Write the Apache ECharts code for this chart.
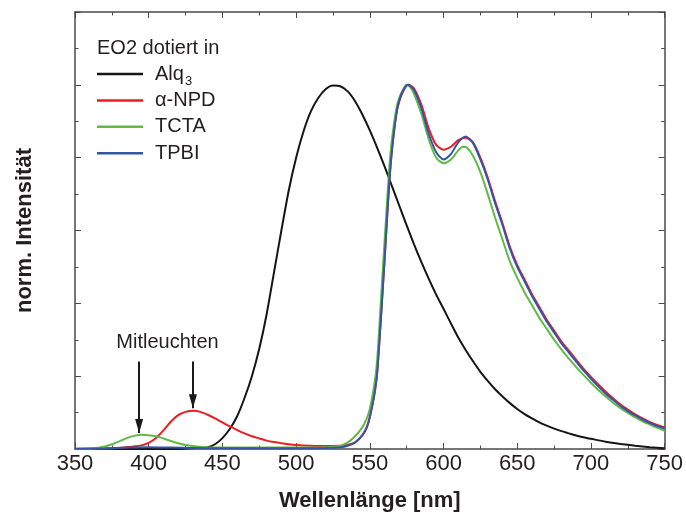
<!DOCTYPE html>
<html><head><meta charset="utf-8">
<script src="https://cdn.jsdelivr.net/npm/echarts@6/dist/echarts.min.js"></script>
<style>html,body{margin:0;padding:0;background:#fff}#c{width:686px;height:517px}</style>
</head><body><div id="c"></div>
<script>
// ---- data (wavelength nm, normalized intensity) ----
const seriesNames = ['Alq3', 'α-NPD', 'TCTA', 'TPBI'];
const xTicks = [350, 400, 450, 500, 550, 600, 650, 700, 750];

const alq3 = [[350,0],[420,0],[430,0.002],[440,0.005],[445,0.013],[450,0.03],[455,0.055],[460,0.09],[465,0.14],[470,0.20],[475,0.275],[480,0.37],[485,0.485],[490,0.60],[495,0.71],[500,0.80],[505,0.872],[510,0.927],[515,0.964],[520,0.988],[525,0.998],[530,0.996],[535,0.982],[540,0.955],[545,0.918],[550,0.875],[555,0.827],[560,0.776],[565,0.722],[570,0.668],[575,0.614],[580,0.562],[585,0.513],[590,0.467],[595,0.424],[600,0.385],[605,0.345],[610,0.306],[615,0.272],[620,0.241],[625,0.212],[630,0.187],[635,0.164],[640,0.144],[645,0.126],[650,0.11],[655,0.096],[660,0.084],[665,0.073],[670,0.064],[675,0.056],[680,0.049],[685,0.043],[690,0.037],[695,0.032],[700,0.028],[710,0.02],[720,0.014],[730,0.009],[740,0.005],[750,0.002]];

const npd = [[350,0],[370,0.001],[380,0.003],[385,0.005],[390,0.007],[395,0.01],[400,0.017],[405,0.03],[410,0.051],[415,0.075],[420,0.093],[425,0.102],[430,0.105],[435,0.102],[440,0.094],[445,0.084],[450,0.073],[455,0.062],[460,0.052],[465,0.043],[470,0.035],[475,0.029],[480,0.023],[485,0.019],[490,0.016],[495,0.013],[500,0.011],[510,0.009],[520,0.008],[530,0.009],[535,0.011],[540,0.018],[545,0.038],[548,0.06],[550,0.088],[553,0.148],[555,0.21],[558,0.39],[560,0.52],[563,0.72],[565,0.82],[568,0.92],[570,0.955],[573,0.985],[576,1.0],[580,0.99],[585,0.945],[590,0.88],[595,0.835],[600,0.822],[605,0.83],[610,0.848],[615,0.855],[620,0.842],[625,0.80],[630,0.745],[635,0.68],[640,0.62],[645,0.555],[650,0.505],[655,0.465],[660,0.425],[665,0.39],[670,0.355],[675,0.325],[680,0.295],[685,0.27],[690,0.245],[695,0.22],[700,0.198],[705,0.177],[710,0.157],[715,0.139],[720,0.122],[725,0.108],[730,0.095],[735,0.084],[740,0.074],[745,0.066],[750,0.059]];

const tcta = [[350,0.001],[360,0.001],[365,0.003],[370,0.007],[375,0.013],[380,0.021],[385,0.03],[390,0.036],[395,0.039],[400,0.038],[405,0.035],[410,0.029],[415,0.022],[420,0.016],[425,0.011],[430,0.008],[435,0.006],[440,0.005],[460,0.004],[500,0.004],[520,0.005],[530,0.009],[535,0.018],[540,0.035],[545,0.06],[548,0.085],[550,0.11],[553,0.175],[555,0.245],[558,0.44],[560,0.57],[563,0.76],[565,0.85],[568,0.935],[570,0.965],[573,0.99],[575,1.0],[578,0.99],[580,0.975],[585,0.92],[590,0.85],[595,0.80],[600,0.785],[605,0.795],[610,0.82],[613,0.83],[616,0.827],[620,0.805],[625,0.76],[630,0.70],[635,0.635],[640,0.575],[645,0.515],[650,0.47],[655,0.43],[660,0.395],[665,0.36],[670,0.33],[675,0.30],[680,0.273],[685,0.248],[690,0.225],[695,0.203],[700,0.182],[705,0.162],[710,0.144],[715,0.127],[720,0.112],[725,0.099],[730,0.087],[735,0.076],[740,0.067],[745,0.058],[750,0.05]];

const tpbi = [[350,0.001],[370,0.002],[385,0.004],[400,0.005],[415,0.004],[430,0.003],[460,0.002],[500,0.002],[520,0.003],[530,0.005],[535,0.009],[540,0.018],[545,0.038],[548,0.06],[550,0.088],[553,0.148],[555,0.21],[558,0.39],[560,0.52],[563,0.72],[565,0.82],[568,0.92],[570,0.958],[573,0.988],[576,1.0],[580,0.985],[585,0.935],[590,0.865],[595,0.815],[600,0.795],[605,0.81],[610,0.842],[615,0.858],[620,0.84],[625,0.795],[630,0.74],[635,0.675],[640,0.615],[645,0.55],[650,0.50],[655,0.46],[660,0.42],[665,0.385],[670,0.35],[675,0.32],[680,0.29],[685,0.265],[690,0.24],[695,0.215],[700,0.193],[705,0.172],[710,0.152],[715,0.135],[720,0.118],[725,0.104],[730,0.092],[735,0.081],[740,0.071],[745,0.063],[750,0.056]];

// annotation arrows ("Mitleuchten"): x position, start and tip in data units
const arrowX = [393.5, 430];
const arrowTop = [0.24, 0.24];
const arrowTip = [0.044, 0.112];

// ---- chart ----
const FONT = "'Liberation Sans', Arial, Helvetica, sans-serif";
const colors = ['#151515', '#ec1c24', '#62b946', '#3454a8'];
const seriesData = [alq3, npd, tcta, tpbi];

const chart = echarts.init(document.getElementById('c'), null, {renderer: 'canvas'});

const axisCommon = {
  type: 'value',
  axisLine: {show: true, onZero: false, lineStyle: {color: '#4a4a4a', width: 1.5}},
  axisTick: {show: true, inside: true, length: 6, lineStyle: {color: '#4a4a4a', width: 1}},
  minorTick: {show: true, splitNumber: 2, length: 3.5, lineStyle: {color: '#4a4a4a', width: 1}},
  splitLine: {show: false},
  minorSplitLine: {show: false}
};

const series = seriesNames.map((name, i) => ({
  name: name,
  type: 'line',
  data: seriesData[i],
  symbol: 'none',
  smooth: 0.25,
  lineStyle: {color: colors[i], width: 2},
  itemStyle: {color: colors[i]},
  z: 2 + i,
  animation: false
}));

series.push({
  type: 'line',
  data: [],
  silent: true,
  z: 10,
  markLine: {
    silent: true,
    animation: false,
    symbol: ['none', 'none'],
    label: {show: false},
    lineStyle: {color: '#1a1a1a', width: 2, type: 'solid'},
    data: arrowX.map((x, i) => [{coord: [x, arrowTop[i]]}, {coord: [x, arrowTip[i]]}])
  },
  markPoint: {
    silent: true,
    animation: false,
    symbol: 'triangle',
    symbolSize: [8, 14],
    symbolRotate: 180,
    symbolOffset: [0, '-50%'],
    itemStyle: {color: '#1a1a1a'},
    label: {show: false},
    data: arrowX.map((x, i) => ({coord: [x, arrowTip[i]]}))
  }
});

chart.setOption({
  backgroundColor: '#ffffff',
  animation: false,
  grid: {left: 75, right: 20, top: 12, bottom: 68, containLabel: false},
  xAxis: [
    Object.assign({}, axisCommon, {
      min: xTicks[0], max: xTicks[xTicks.length - 1], interval: 50, position: 'bottom',
      axisLabel: {show: true, margin: 4, fontSize: 22, fontFamily: FONT, color: '#231f20'},
      name: 'Wellenlänge [nm]', nameLocation: 'middle', nameGap: 41,
      nameTextStyle: {fontSize: 22, fontWeight: 'bold', fontFamily: FONT, color: '#231f20'}
    }),
    Object.assign({}, axisCommon, {
      min: xTicks[0], max: xTicks[xTicks.length - 1], interval: 50, position: 'top',
      axisLabel: {show: false}
    })
  ],
  yAxis: [
    Object.assign({}, axisCommon, {
      min: 0, max: 1.2, interval: 0.2, position: 'left',
      axisLabel: {show: false},
      name: 'norm. Intensität', nameLocation: 'middle', nameGap: 39, nameRotate: 90,
      nameTextStyle: {fontSize: 22, fontWeight: 'bold', fontFamily: FONT, color: '#231f20'}
    }),
    Object.assign({}, axisCommon, {
      min: 0, max: 1.2, interval: 0.2, position: 'right',
      axisLabel: {show: false}
    })
  ],
  legend: {
    orient: 'vertical', left: 97, top: 59.5, padding: 0,
    icon: 'rect',
    itemWidth: 46, itemHeight: 2.5, itemGap: -2.6,
    data: seriesNames,
    formatter: n => n === 'Alq3' ? 'Alq{sub|3}' : n,
    textStyle: {
      fontSize: 20, fontFamily: FONT, color: '#231f20', lineHeight: 29, padding: [0, 0, 0, 7],
      rich: {sub: {fontSize: 13, fontFamily: FONT, color: '#231f20', lineHeight: 29, verticalAlign: 'middle', padding: [14, 0, 0, 1]}}
    },
    selectedMode: false
  },
  graphic: [
    {type: 'text', left: 97, top: 38, silent: true,
     style: {text: 'EO2 dotiert in', font: '20px ' + FONT, fill: '#231f20'}},
    {type: 'text', x: 167.5, y: 342.5, silent: true,
     style: {text: 'Mitleuchten', font: '20px ' + FONT, fill: '#231f20', align: 'center', verticalAlign: 'middle'}}
  ],
  series: series
});
</script></body></html>
